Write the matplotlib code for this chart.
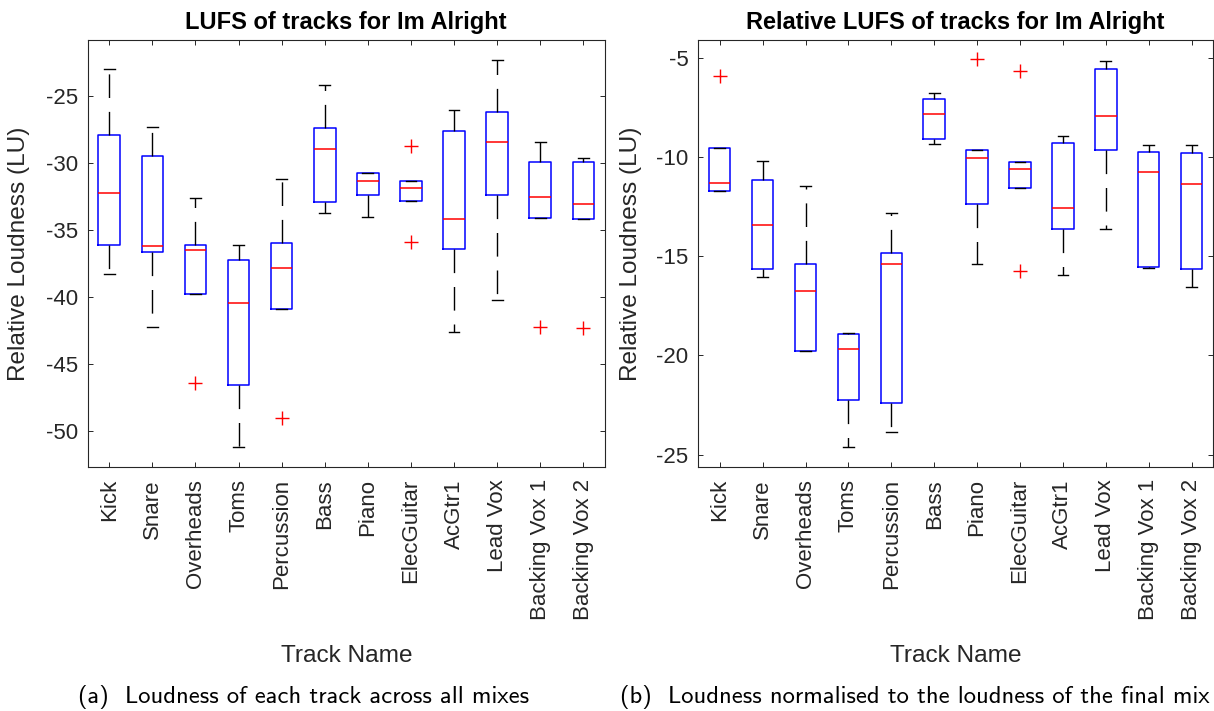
import matplotlib
matplotlib.use("Agg")
import matplotlib.pyplot as plt

plt.rcParams['axes.unicode_minus'] = False
plt.rcParams['font.family'] = ['Liberation Sans', 'DejaVu Sans']

tracks = ['Kick', 'Snare', 'Overheads', 'Toms', 'Percussion', 'Bass', 'Piano',
          'ElecGuitar', 'AcGtr1', 'Lead Vox', 'Backing Vox 1', 'Backing Vox 2']

# Panel (a): absolute loudness
med_a = [-32.19, -36.18, -36.50, -40.42, -37.80, -28.92, -31.36, -31.86, -34.18, -28.44, -32.51, -33.06]
q1_a = [-36.10, -36.60, -39.75, -46.58, -40.89, -32.91, -32.41, -32.81, -36.40, -32.41, -34.11, -34.16]
q3_a = [-27.87, -29.44, -36.15, -37.20, -36.00, -27.35, -30.76, -31.36, -27.57, -26.15, -29.92, -29.94]
lo_a = [-38.32, -42.24, -39.75, -51.25, -40.89, -33.73, -34.01, -32.81, -42.61, -40.24, -34.11, -34.16]
hi_a = [-22.95, -27.27, -32.63, -36.10, -31.16, -24.18, -30.69, -31.36, -26.02, -22.26, -28.42, -29.62]
fliers_a = [[], [], [-46.41], [], [-49.03], [], [], [-28.72, -35.90], [], [], [-42.27], [-42.32]]

# Panel (b): relative loudness
med_b = [-11.33, -13.42, -16.76, -19.66, -15.40, -7.82, -10.05, -10.60, -12.55, -7.95, -10.74, -11.38]
q1_b = [-11.74, -15.62, -19.77, -22.23, -22.38, -9.09, -12.38, -11.58, -13.64, -9.66, -15.52, -15.66]
q3_b = [-9.55, -11.14, -15.40, -18.93, -14.83, -7.08, -9.63, -10.27, -9.28, -5.57, -9.73, -9.78]
lo_b = [-11.74, -16.07, -19.77, -24.61, -23.86, -9.36, -15.39, -11.58, -15.97, -13.61, -15.60, -16.56]
hi_b = [-9.55, -10.22, -11.49, -18.89, -12.85, -6.80, -9.63, -10.27, -8.94, -5.18, -9.38, -9.41]
fliers_b = [[-5.91], [], [], [], [], [], [-5.08], [-5.70, -15.77], [], [], [], []]

ticks_a = [-50, -45, -40, -35, -30, -25]
ticks_b = [-25, -20, -15, -10, -5]

fig = plt.figure(figsize=(12.14, 7.11), dpi=100)
ax1 = fig.add_axes([0.0722, 0.3436, 0.4261, 0.5997])
ax2 = fig.add_axes([0.5752, 0.3436, 0.4240, 0.5997])

GREY = '#262626'


def draw(ax, med, q1, q3, lo, hi, fl, yticks, ylim, title):
    stats = []
    for i in range(len(tracks)):
        stats.append(dict(med=med[i], q1=q1[i], q3=q3[i], whislo=lo[i], whishi=hi[i], fliers=fl[i]))
    pos = list(range(1, len(tracks) + 1))
    ax.bxp(stats, positions=pos, widths=0.5, capwidths=0.25, showfliers=True,
           boxprops=dict(color='blue', linewidth=1.1),
           medianprops=dict(color='red', linewidth=1.1),
           whiskerprops=dict(color='black', linewidth=1.0, linestyle=(0, (17, 10))),
           capprops=dict(color='black', linewidth=1.0),
           flierprops=dict(marker='+', markeredgecolor='red', markersize=10, markeredgewidth=1.0,
                           linestyle='none'))
    ax.set_xlim(0.5, len(tracks) + 0.5)
    ax.set_ylim(*ylim)
    ax.set_xticks(pos)
    ax.set_xticklabels(tracks, rotation=90, fontsize=16, color=GREY)
    ax.set_yticks(yticks)
    ax.set_yticklabels([str(t) for t in yticks], fontsize=16, color=GREY)
    ax.tick_params(direction='in', top=True, right=True, length=3.4, width=0.7, color=GREY)
    ax.tick_params(axis='x', pad=9)
    ax.tick_params(axis='y', pad=7)
    for s in ax.spines.values():
        s.set_color(GREY)
        s.set_linewidth(0.8)
    ax.set_title(title, fontsize=17, fontweight='bold', pad=8.5)
    ax.set_ylabel('Relative Loudness (LU)', fontsize=17.6, color=GREY)
    ax.set_xlabel('Track Name', fontsize=17.6, color=GREY)
    ax.xaxis.set_label_coords(0.5, -0.418)


draw(ax1, med_a, q1_a, q3_a, lo_a, hi_a, fliers_a, ticks_a, (-52.7, -20.8),
     'LUFS of tracks for Im Alright')
ax1.yaxis.set_label_coords(-0.1115, 0.5)
draw(ax2, med_b, q1_b, q3_b, lo_b, hi_b, fliers_b, ticks_b, (-25.6, -4.13),
     'Relative LUFS of tracks for Im Alright')
ax2.yaxis.set_label_coords(-0.110, 0.5)

fig.text(0.0643, 0.0117, '(a)  Loudness of each track across all mixes',
         fontsize=17.7, family=['cmss10', 'DejaVu Sans'], va='baseline', ha='left')
fig.text(0.5107, 0.0117, '(b)  Loudness normalised to the loudness of the final mix',
         fontsize=17.7, family=['cmss10', 'DejaVu Sans'], va='baseline', ha='left')

fig.savefig('out.png', dpi=100)
